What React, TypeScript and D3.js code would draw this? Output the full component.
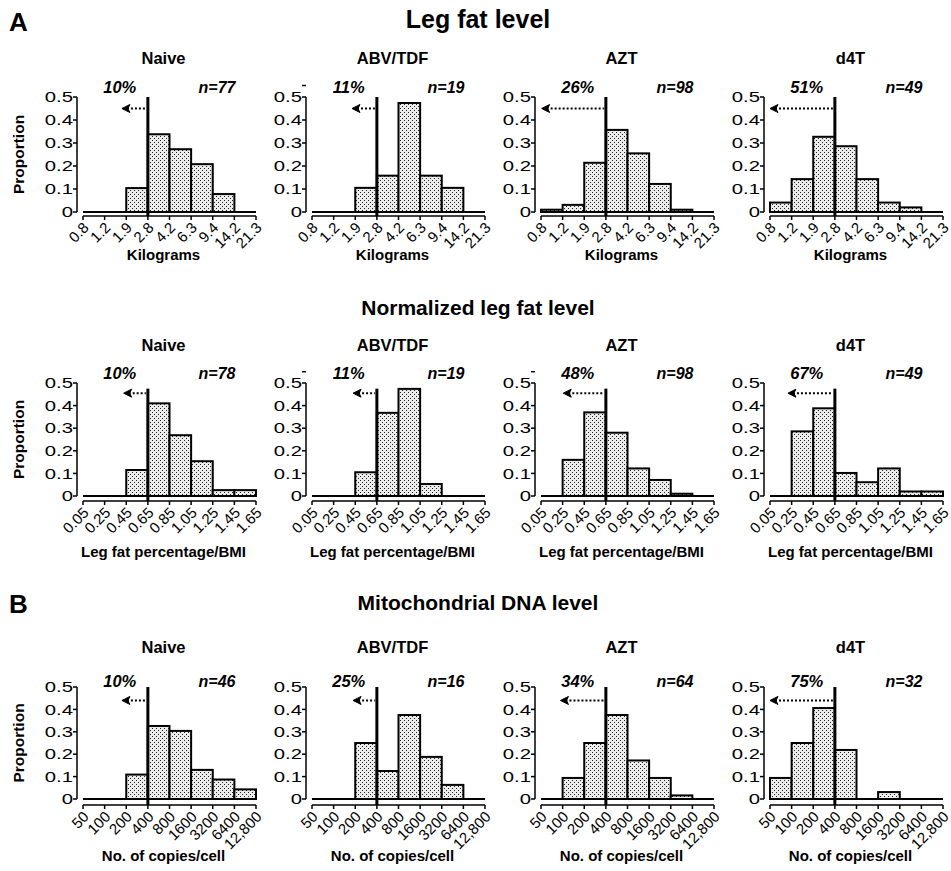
import React from "react";
import * as d3 from "d3";

const W = 951;
const H = 871;
const FONT = "Arial, 'Liberation Sans', Helvetica, sans-serif";

// groups (columns)
const groups = ["Naive", "ABV/TDF", "AZT", "d4T"];

// x-axis bin edges
const kgTicks = ["0.8", "1.2", "1.9", "2.8", "4.2", "6.3", "9.4", "14.2", "21.3"];
const bmiTicks = ["0.05", "0.25", "0.45", "0.65", "0.85", "1.05", "1.25", "1.45", "1.65"];
const mtTicks = ["50", "100", "200", "400", "800", "1600", "3200", "6400", "12,800"];

// proportions per bin (8 bins) for each group
const legFat = [
  [0, 0, 0.104, 0.338, 0.273, 0.208, 0.078, 0],
  [0, 0, 0.105, 0.158, 0.474, 0.158, 0.105, 0],
  [0.01, 0.031, 0.214, 0.357, 0.255, 0.122, 0.01, 0],
  [0.041, 0.143, 0.327, 0.286, 0.143, 0.041, 0.02, 0],
];
const legFatN = [77, 19, 98, 49];
const legFatPct = ["10%", "11%", "26%", "51%"];
const legFatArrow = [1.8, 1.85, 0.03, 0];

const normFat = [
  [0, 0, 0.115, 0.41, 0.269, 0.154, 0.026, 0.026],
  [0, 0, 0.105, 0.368, 0.474, 0.053, 0, 0],
  [0, 0.16, 0.37, 0.28, 0.122, 0.071, 0.01, 0],
  [0, 0.286, 0.388, 0.102, 0.061, 0.122, 0.02, 0.02],
];
const normFatN = [78, 19, 98, 49];
const normFatPct = ["10%", "11%", "48%", "67%"];
const normFatArrow = [1.88, 1.9, 1.03, 0.83];

const mtDna = [
  [0, 0, 0.109, 0.326, 0.304, 0.13, 0.087, 0.043],
  [0, 0, 0.25, 0.125, 0.375, 0.188, 0.063, 0],
  [0, 0.094, 0.25, 0.375, 0.172, 0.094, 0.016, 0],
  [0.094, 0.25, 0.406, 0.219, 0, 0.031, 0, 0],
];
const mtDnaN = [46, 16, 64, 32];
const mtDnaPct = ["10%", "25%", "34%", "75%"];
const mtDnaArrow = [1.8, 1.9, 0.9, 0];

const cutoffIndex = 3;
const yTicks = [0, 0.1, 0.2, 0.3, 0.4, 0.5];

// layout per row (pixels)
const rows = [
  {
    ticks: kgTicks, values: legFat, n: legFatN, pct: legFatPct, arrow: legFatArrow,
    xLabel: "Kilograms", base: 212, top: 97, gap: 4, cutTop: 0.5, arrowY: 0.45,
    titleY: 64, xLabelY: 260, pctLift: 4, stray: [false, true, false, false],
  },
  {
    ticks: bmiTicks, values: normFat, n: normFatN, pct: normFatPct, arrow: normFatArrow,
    xLabel: "Leg fat percentage/BMI", base: 496, top: 383, gap: 5, cutTop: 0.475, arrowY: 0.455,
    titleY: 351, xLabelY: 557, pctLift: 4, stray: [false, true, true, false],
  },
  {
    ticks: mtTicks, values: mtDna, n: mtDnaN, pct: mtDnaPct, arrow: mtDnaArrow,
    xLabel: "No. of copies/cell", base: 799, top: 687, gap: 6, cutTop: 0.5, arrowY: 0.44,
    titleY: 653, xLabelY: 861, pctLift: 0, stray: [false, false, false, false],
  },
];

const sections = [
  { letter: "A", title: "Leg fat level", y: 28, size: 25 },
  { letter: null, title: "Normalized leg fat level", y: 315, size: 21 },
  { letter: "B", title: "Mitochondrial DNA level", y: 610, size: 21 },
];

const colStart = (c: number) => 83 + c * 229;
const axisLen = 173;
const WIDE_Y = 1.4; // y tick labels use a wide face

function Panel({ row, col }: { row: any; col: number }) {
  const x0 = colStart(col);
  const x = d3.scaleLinear().domain([0, 8]).range([x0, x0 + axisLen]);
  const y = d3.scaleLinear().domain([0, 0.5]).range([row.base, row.top]);
  const vals: number[] = row.values[col];
  const yAxisX = x0 - 6;
  const axisY = row.base + row.gap;
  const cx = x(cutoffIndex);
  const ay = y(row.arrowY);
  const ax = x(row.arrow[col]);
  const mid = (x(0) + x(8)) / 2 - 6;

  return (
    <g>
      <text x={mid} y={row.titleY} textAnchor="middle" fontSize={16.5} fontWeight="bold">
        {groups[col]}
      </text>
      <text x={x(1.7)} y={y(0.5) - row.pctLift} textAnchor="middle" fontSize={16.5}
        fontWeight="bold" fontStyle="italic">{row.pct[col]}</text>
      <text x={x(7.05)} y={y(0.5) - row.pctLift} textAnchor="end" fontSize={16}
        fontWeight="bold" fontStyle="italic">{`n=${row.n[col]}`}</text>

      {/* y axis */}
      <line x1={yAxisX} x2={yAxisX} y1={y(0)} y2={y(0.5)} stroke="#000" strokeWidth={1.5} />
      {yTicks.map((t) => (
        <g key={t}>
          <line x1={yAxisX - 4} x2={yAxisX} y1={y(t)} y2={y(t)} stroke="#000" strokeWidth={1.5} />
          <text transform={`translate(${yAxisX - 4},${y(t)}) scale(${WIDE_Y},1)`} dy="0.36em"
            textAnchor="end" fontSize={14.5}>
            {t === 0 ? "0" : d3.format(".1f")(t)}
          </text>
        </g>
      ))}
      {row.stray[col] && (
        <line x1={yAxisX - 4} x2={yAxisX} y1={y(0.55)} y2={y(0.55)} stroke="#000" strokeWidth={1.5} />
      )}

      {/* baseline + bars */}
      <line x1={x(0)} x2={x(8)} y1={y(0)} y2={y(0)} stroke="#000" strokeWidth={2} />
      {vals.map((v, i) =>
        v > 0 ? (
          <rect key={i} x={x(i)} width={x(i + 1) - x(i)} y={y(v)} height={y(0) - y(v)}
            fill="url(#dots)" stroke="#000" strokeWidth={2} />
        ) : null
      )}

      {/* x axis */}
      <line x1={x(0)} x2={x(8)} y1={axisY} y2={axisY} stroke="#000" strokeWidth={1.5} />
      {row.ticks.map((t: string, i: number) => (
        <g key={t}>
          <line x1={x(i)} x2={x(i)} y1={axisY} y2={axisY + 4} stroke="#000" strokeWidth={1.5} />
          <text transform={`translate(${x(i) + 3},${axisY + 9}) rotate(-45)`}
            dy="0.35em" textAnchor="end" fontSize={15}>{t}</text>
        </g>
      ))}
      <text x={mid} y={row.xLabelY} textAnchor="middle" fontSize={15} fontWeight="bold">
        {row.xLabel}
      </text>

      {/* cutoff and arrow */}
      <line x1={cx} x2={cx} y1={axisY} y2={y(row.cutTop)} stroke="#000" strokeWidth={3} />
      <line x1={ax + 5} x2={cx - 2} y1={ay} y2={ay} stroke="#000" strokeWidth={2}
        strokeDasharray="2 2" />
      <path d={`M${ax},${ay} L${ax + 8},${ay - 4} L${ax + 6},${ay} L${ax + 8},${ay + 4} Z`}
        fill="#000" stroke="#000" strokeWidth={1} />

      {col === 0 && (
        <text transform={`translate(19,${(y(0) + y(0.5)) / 2}) rotate(-90)`} textAnchor="middle"
          dy="0.35em" fontSize={15.5} fontWeight="bold">Proportion</text>
      )}
    </g>
  );
}

export default function App() {
  return (
    <svg width={W} height={H} style={{ position: "absolute", left: 0, top: 0, background: "#fff" }}
      fontFamily={FONT}>
      <defs>
        <pattern id="dots" width={4} height={4} patternUnits="userSpaceOnUse">
          <rect width={4} height={4} fill="#ececec" />
          <rect x={0} y={0} width={1} height={1} fill="#222" />
          <rect x={2} y={2} width={1} height={1} fill="#222" />
        </pattern>
      </defs>
      <rect width={W} height={H} fill="#fff" />
      {sections.map((s) => (
        <g key={s.title}>
          {s.letter && (
            <text x={9} y={s.y + 3} fontSize={26} fontWeight="bold">{s.letter}</text>
          )}
          <text x={478} y={s.y} textAnchor="middle" fontSize={s.size} fontWeight="bold">{s.title}</text>
        </g>
      ))}
      {rows.map((r, ri) => groups.map((g, ci) => <Panel key={`${ri}-${ci}`} row={r} col={ci} />))}
    </svg>
  );
}
